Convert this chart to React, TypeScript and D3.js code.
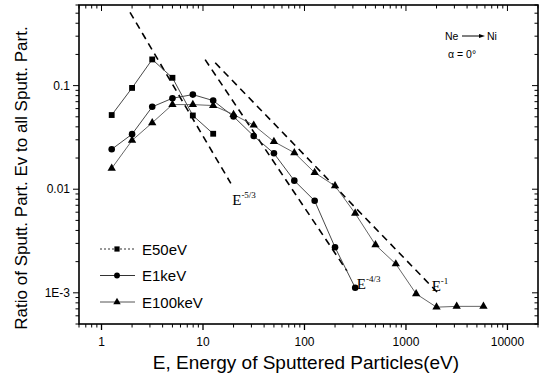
import { useEffect, useRef } from "react"
import * as d3 from "d3"

// energy bins (eV) and ratio values
const e50Energy = [1.26, 2.0, 3.16, 5.0, 7.94, 12.6]
const e50Ratio = [0.052, 0.095, 0.179, 0.119, 0.0515, 0.0343]

const e1kEnergy = [1.26, 2.0, 3.16, 5.0, 7.94, 12.6, 20, 31.6, 50, 79.4, 126, 200, 316]
const e1kRatio = [0.0243, 0.034, 0.0624, 0.0755, 0.0819, 0.0717, 0.0503, 0.0326, 0.0222, 0.0121, 0.00773, 0.00275, 0.00112]

const e100kEnergy = [1.26, 2.0, 3.16, 5.0, 7.94, 12.6, 20, 31.6, 50, 79.4, 126, 200, 316, 501, 794, 1260, 2000, 3160, 5800]
const e100kRatio = [
  0.0159, 0.0296, 0.0438, 0.0656, 0.0656, 0.0642, 0.0526, 0.0415, 0.0288, 0.0225, 0.01445, 0.01076, 0.00584, 0.0029,
  0.0019, 0.000977, 0.000727, 0.00074, 0.00074,
]

const xTicks = [1, 10, 100, 1000, 10000]
const xTickLabels = ["1", "10", "100", "1000", "10000"]
const yTicks = [0.1, 0.01, 0.001]
const yTickLabels = ["0.1", "0.01", "1E-3"]

// power law guide lines: [E start, ratio start, E end, ratio end]
const guideNames = ["-5/3", "-4/3", "-1"]
const guideEnds = [
  [1.91, 0.51, 18.8, 0.0114],
  [10.5, 0.178, 262, 0.00163],
  [13.2, 0.166, 2100, 0.00098],
]
const guideLabelAt = [
  [19.4, 0.00702],
  [328, 0.00109],
  [1790, 0.00105],
]

const App = () => {
  const svgRef = useRef<SVGSVGElement>(null)

  useEffect(() => {
    const svg = d3.select(svgRef.current)
    svg.selectAll("*").remove()

    const left = 79
    const right = 538
    const top = 5
    const bottom = 324
    const font = "'Liberation Sans', Arial, sans-serif"

    const x = d3.scaleLog().domain([0.6, 20000]).range([left, right])
    const y = d3.scaleLog().domain([5e-4, 0.6]).range([bottom, top])

    const minorX = x.ticks().filter((t) => !xTicks.includes(t))
    const minorY = y.ticks().filter((t) => !yTicks.some((m) => Math.abs(m - t) / m < 1e-6))

    const axes = svg.append("g").attr("stroke", "#000")
    // bottom ticks outward, top ticks inward
    axes
      .selectAll(".xmaj")
      .data(xTicks)
      .join("line")
      .attr("x1", (d) => x(d))
      .attr("x2", (d) => x(d))
      .attr("y1", bottom)
      .attr("y2", bottom + 6)
      .attr("stroke-width", 1.3)
    axes
      .selectAll(".xmin")
      .data(minorX)
      .join("line")
      .attr("x1", (d) => x(d))
      .attr("x2", (d) => x(d))
      .attr("y1", bottom)
      .attr("y2", bottom + 3.5)
    axes
      .selectAll(".xtop")
      .data(x.ticks())
      .join("line")
      .attr("x1", (d) => x(d))
      .attr("x2", (d) => x(d))
      .attr("y1", top)
      .attr("y2", (d) => (xTicks.includes(d) ? top + 6 : top + 3.5))
    // left ticks outward, right ticks inward
    axes
      .selectAll(".ymaj")
      .data(y.ticks())
      .join("line")
      .attr("x1", (d) => (minorY.includes(d) ? left - 3.5 : left - 6))
      .attr("x2", left)
      .attr("y1", (d) => y(d))
      .attr("y2", (d) => y(d))
    axes
      .selectAll(".yright")
      .data(y.ticks())
      .join("line")
      .attr("x1", right)
      .attr("x2", (d) => (minorY.includes(d) ? right - 3.5 : right - 6))
      .attr("y1", (d) => y(d))
      .attr("y2", (d) => y(d))

    svg
      .append("rect")
      .attr("x", left)
      .attr("y", top)
      .attr("width", right - left)
      .attr("height", bottom - top)
      .attr("fill", "none")
      .attr("stroke", "#000")
      .attr("stroke-width", 1.6)

    svg
      .append("g")
      .selectAll("text")
      .data(xTicks)
      .join("text")
      .attr("x", (d) => x(d))
      .attr("y", bottom + 22)
      .attr("text-anchor", "middle")
      .style("font-family", font)
      .style("font-size", "12px")
      .text((d, i) => xTickLabels[i])

    svg
      .append("g")
      .selectAll("text")
      .data(yTicks)
      .join("text")
      .attr("x", left - 9)
      .attr("y", (d) => y(d) + 4)
      .attr("text-anchor", "end")
      .style("font-family", font)
      .style("font-size", "12px")
      .text((d, i) => yTickLabels[i])

    svg
      .append("text")
      .attr("x", 306)
      .attr("y", 369)
      .attr("text-anchor", "middle")
      .style("font-family", font)
      .style("font-size", "19px")
      .text("E, Energy of Sputtered Particles(eV)")

    svg
      .append("text")
      .attr("transform", `translate(27,178) rotate(-90)`)
      .attr("text-anchor", "middle")
      .style("font-family", font)
      .style("font-size", "17px")
      .text("Ratio of Sputt. Part. Ev to all Sputt. Part.")

    // guide lines
    const plot = svg.append("g")
    guideEnds.forEach((g) => {
      plot
        .append("line")
        .attr("x1", x(g[0]))
        .attr("y1", y(g[1]))
        .attr("x2", x(g[2]))
        .attr("y2", y(g[3]))
        .attr("stroke", "#000")
        .attr("stroke-width", 1.6)
        .attr("stroke-dasharray", "7,5")
    })
    guideNames.forEach((name, i) => {
      const t = plot
        .append("text")
        .attr("x", x(guideLabelAt[i][0]))
        .attr("y", y(guideLabelAt[i][1]))
        .style("font-family", "'Liberation Serif', serif")
        .style("font-size", "15px")
      t.append("tspan").text("E")
      t.append("tspan").attr("dy", -7).style("font-size", "9px").text(name)
    })

    const series = [
      { name: "E50eV", e: e50Energy, r: e50Ratio, shape: d3.symbolSquare, size: 34, color: "#333", dash: "2,2" },
      { name: "E1keV", e: e1kEnergy, r: e1kRatio, shape: d3.symbolCircle, size: 34, color: "#333", dash: null },
      { name: "E100keV", e: e100kEnergy, r: e100kRatio, shape: d3.symbolTriangle, size: 30, color: "#555", dash: null },
    ]

    series.forEach((s) => {
      const pts = s.e.map((e, i) => [x(e), y(s.r[i])] as [number, number])
      plot
        .append("path")
        .attr("d", d3.line()(pts))
        .attr("fill", "none")
        .attr("stroke", s.color)
        .attr("stroke-width", 0.9)
      plot
        .selectAll(null)
        .data(pts)
        .join("path")
        .attr("transform", (d) => `translate(${d[0]},${d[1]})`)
        .attr("d", d3.symbol().type(s.shape).size(s.size))
        .attr("fill", "#000")
    })

    // legend
    const legend = svg.append("g")
    series.forEach((s, i) => {
      const ly = 249 + i * 26.5
      legend
        .append("line")
        .attr("x1", 100)
        .attr("x2", 135)
        .attr("y1", ly)
        .attr("y2", ly)
        .attr("stroke", s.color)
        .attr("stroke-width", 1)
        .attr("stroke-dasharray", s.dash)
      legend
        .append("path")
        .attr("transform", `translate(117,${ly})`)
        .attr("d", d3.symbol().type(s.shape).size(s.size * 0.8))
        .attr("fill", "#000")
      legend
        .append("text")
        .attr("x", 142)
        .attr("y", ly + 5.5)
        .style("font-family", font)
        .style("font-size", "15px")
        .text(s.name)
    })

    // annotation
    const note = svg.append("g").style("font-family", font).style("font-size", "10.5px")
    note.append("text").attr("x", 445).attr("y", 40).text("Ne")
    note.append("text").attr("x", 487).attr("y", 40).text("Ni")
    note
      .append("line")
      .attr("x1", 462)
      .attr("x2", 481)
      .attr("y1", 36)
      .attr("y2", 36)
      .attr("stroke", "#000")
      .attr("stroke-width", 1)
    note
      .append("path")
      .attr("d", "M479,34L485,36L479,38Z")
      .attr("fill", "#000")
    note.append("text").attr("x", 448).attr("y", 58).text("\u03b1 = 0\u00b0")
  }, [])

  return (
    <svg
      ref={svgRef}
      width={544}
      height={380}
      style={{ position: "absolute", left: 0, top: 0, background: "#fff" }}
    ></svg>
  )
}

export default App
